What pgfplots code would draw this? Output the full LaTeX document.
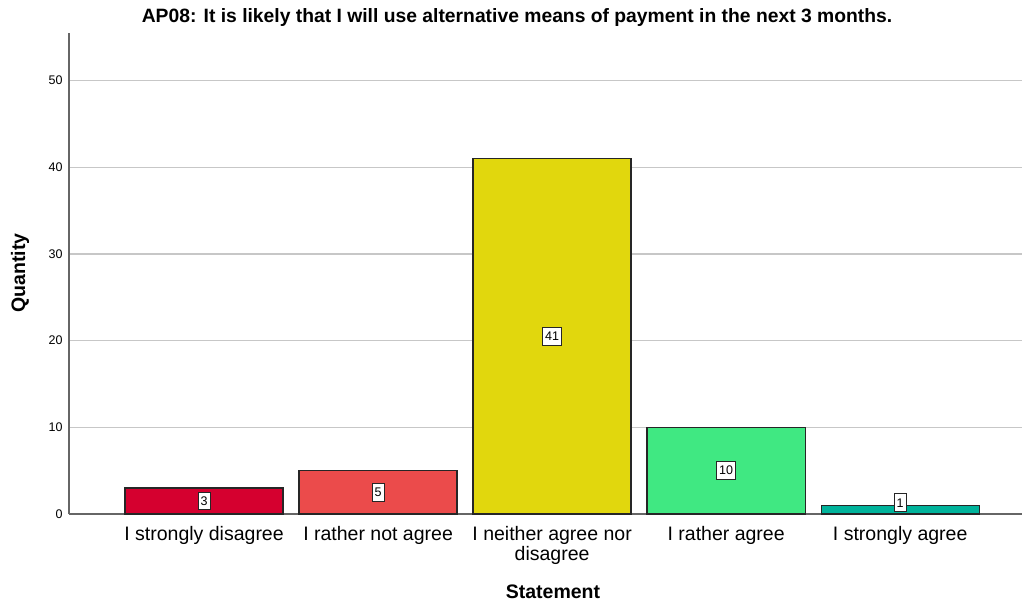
\documentclass[border=0pt]{standalone}
\usepackage{pgfplots}
\pgfplotsset{compat=1.18}
\usepackage{fontspec}
\setmainfont{Liberation Sans}
\definecolor{c1}{HTML}{D5002F}
\definecolor{c2}{HTML}{EB4B4B}
\definecolor{c3}{HTML}{E1D70D}
\definecolor{c4}{HTML}{40E882}
\definecolor{c5}{HTML}{00B39B}
\begin{document}
\begin{tikzpicture}[x=1pt,y=1pt]
\path[use as bounding box] (0,0) rectangle (1024,603);
\begin{axis}[
  at={(69pt,89pt)}, anchor=south west,
  scale only axis, width=953pt, height=481pt,
  xmin=-0.776, xmax=4.70, ymin=0, ymax=55.5,
  axis x line=bottom, axis y line=left,
  axis line style={-, draw=black!60, line width=1.2pt},
  clip=false,
  ytick={0,10,20,30,40,50},
  ymajorgrids, grid style={draw=black!22, line width=1.2pt},
  major tick length=0pt,
  /pgf/number format/assume math mode=true,
  yticklabel style={font=\fontsize{12.5}{14}\selectfont, xshift=-3pt},
  xtick={0,1,2,3,4},
  xticklabels={I strongly disagree, I rather not agree, {I neither agree nor\\disagree}, I rather agree, I strongly agree},
  xticklabel style={align=center, font=\fontsize{19.5}{19.5}\selectfont, anchor=north, yshift=-9pt},
]
\addplot[ybar, bar width=0.908, bar shift=0pt, fill=c1, draw=black!85, line width=1.3pt] coordinates {(0,3)};
\addplot[ybar, bar width=0.908, bar shift=0pt, fill=c2, draw=black!85, line width=1.3pt] coordinates {(1,5)};
\addplot[ybar, bar width=0.908, bar shift=0pt, fill=c3, draw=black!85, line width=1.3pt] coordinates {(2,41)};
\addplot[ybar, bar width=0.908, bar shift=0pt, fill=c4, draw=black!85, line width=1.3pt] coordinates {(3,10)};
\addplot[ybar, bar width=0.908, bar shift=0pt, fill=c5, draw=black!85, line width=1.3pt] coordinates {(4,1)};
\addplot[draw=none, mark=none, nodes near coords, point meta=explicit symbolic,
  nodes near coords style={anchor=center, fill=white, draw=black!85, line width=1pt, inner xsep=2.5pt, inner ysep=4.5pt, font=\fontsize{12.5}{14}\selectfont, text=black}]
  coordinates {(0,1.5)[3] (1,2.5)[5] (2,20.5)[41] (3,5)[10] (4,1.3)[1]};
\end{axis}
\node[font=\bfseries\fontsize{19.3}{21}\selectfont] at (517,585) {AP08: It is likely that I will use alternative means of payment in the next 3 months.};
\node[font=\bfseries\fontsize{19.5}{21}\selectfont] at (553,11) {Statement};
\node[font=\bfseries\fontsize{19.5}{21}\selectfont, rotate=90] at (20,330) {Quantity};
\end{tikzpicture}
\end{document}
